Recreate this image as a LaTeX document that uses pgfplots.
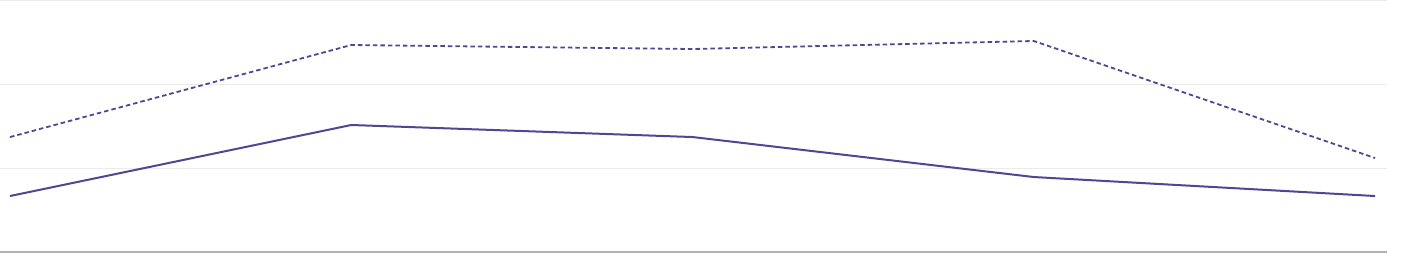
\documentclass[border=0pt]{standalone}
\usepackage{pgfplots}
\pgfplotsset{compat=1.18}
\definecolor{lineP}{RGB}{84,68,148}
\definecolor{gridG}{RGB}{235,235,235}
\definecolor{baseG}{RGB}{178,178,178}
\begin{document}
\begin{tikzpicture}
\path[use as bounding box] (0,0) rectangle (1405bp,256bp);
\begin{axis}[
  at={(0bp,4bp)}, anchor=south west,
  scale only axis, width=1387bp, height=251bp,
  xmin=-0.0293, xmax=4.035, ymin=0, ymax=3,
  hide axis,
  clip=false,
]
\draw[gridG, line width=1bp] (axis cs:-0.0293,1) -- (axis cs:4.035,1);
\draw[gridG, line width=1bp] (axis cs:-0.0293,2) -- (axis cs:4.035,2);
\draw[gridG, line width=1bp] (axis cs:-0.0293,3) -- (axis cs:4.035,3);
\draw[baseG, line width=2bp] (axis cs:-0.0293,0) -- (axis cs:4.035,0);
\addplot[lineP, line width=2bp] coordinates {(0,0.669) (1,1.518) (2,1.374) (3,0.896) (4,0.669)};
\addplot[lineP, line width=1.8bp, dash pattern=on 4.5bp off 3bp] coordinates {(0,1.374) (1,2.474) (2,2.426) (3,2.522) (4,1.123)};
\end{axis}
\end{tikzpicture}
\end{document}
